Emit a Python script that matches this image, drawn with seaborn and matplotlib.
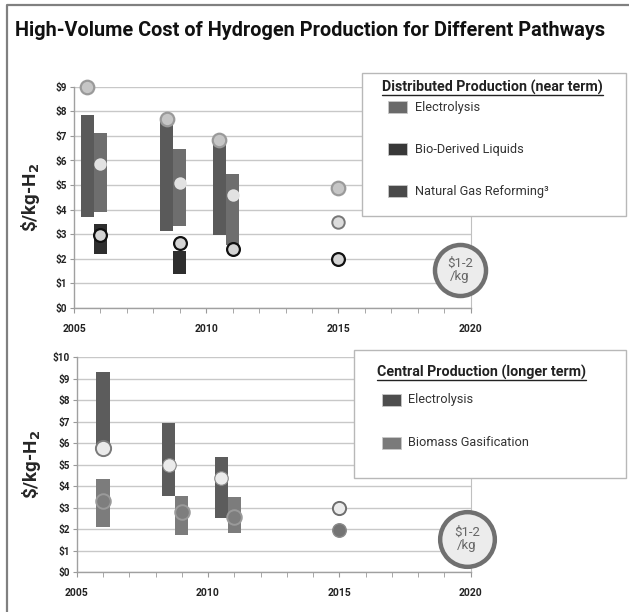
import numpy as np
import pandas as pd
import matplotlib
matplotlib.use("Agg")
import matplotlib.pyplot as plt
from matplotlib.lines import Line2D
from matplotlib.patches import Rectangle
import seaborn as sns

# ---------------- data ----------------
# Distributed production (top panel)
dist_a_years = [2005.5, 2008.5, 2010.5]
dist_a_low = [3.7, 3.15, 2.95]
dist_a_high = [7.85, 7.65, 6.75]

dist_b_years = [2006, 2009, 2011]
dist_b_low = [3.9, 3.35, 2.55]
dist_b_high = [7.1, 6.45, 5.45]

bio_years = [2006, 2009]
bio_low = [2.2, 1.37]
bio_high = [3.42, 2.3]

dist_a_pt_years = [2005.5, 2008.5, 2010.5, 2015]
dist_a_pt_vals = [9.0, 7.7, 6.85, 4.9]
dist_b_pt_years = [2006, 2009, 2011]
dist_b_pt_vals = [5.85, 5.1, 4.6]
dist_b_target_year = [2015]
dist_b_target_val = [3.5]
ng_pt_years = [2006, 2009, 2011, 2015]
ng_pt_vals = [2.95, 2.65, 2.4, 2.0]

# Central production (bottom panel)
cen_el_years = [2006, 2008.5, 2010.5]
cen_el_low = [5.8, 3.56, 2.53]
cen_el_high = [9.33, 6.93, 5.38]
cen_el_pt_years = [2006, 2008.5, 2010.5, 2015]
cen_el_pt_vals = [5.8, 5.0, 4.38, 3.0]

cen_bm_years = [2006, 2009, 2011]
cen_bm_low = [2.12, 1.75, 1.81]
cen_bm_high = [4.33, 3.55, 3.52]
cen_bm_pt_years = [2006, 2009, 2011, 2015]
cen_bm_pt_vals = [3.3, 2.8, 2.55, 1.95]

goal_label = "$1-2\n/kg"
goal_year_top, goal_val_top = [2019.6], [1.55]
goal_year_bot, goal_val_bot = [2019.85], [1.55]

x_ticks = [2005, 2010, 2015, 2020]
top_yticks = list(range(0, 10))
bot_yticks = list(range(0, 11))

dist_legend_title = "Distributed Production (near term)"
dist_legend_labels = ["Electrolysis", "Bio-Derived Liquids", "Natural Gas Reforming\u00b3"]
cen_legend_title = "Central Production (longer term)"
cen_legend_labels = ["Electrolysis", "Biomass Gasification"]
title = "High-Volume Cost of Hydrogen Production for Different Pathways"
ylabel = "\\$/kg-H$_2$"

# ---------------- style ----------------
sns.set_style("white")
plt.rcParams["font.family"] = ["Roboto", "DejaVu Sans"]
plt.rcParams["mathtext.default"] = "bf"

W, H = 629, 612
fig = plt.figure(figsize=(W / 100, H / 100), dpi=100)


def fx(px):
    return px / W


def fy(py):
    return 1 - py / H


def style_axes(ax, ymax, yticks):
    ax.set_xlim(2005, 2020)
    ax.set_ylim(0, ymax)
    ax.set_yticks(yticks)
    ax.set_yticklabels([f"${v}" for v in yticks], fontsize=7.2, fontweight="bold", color="#222222")
    ax.set_xticks(x_ticks)
    ax.set_xticklabels([str(v) for v in x_ticks], fontsize=7.5, fontweight="bold", color="#222222")
    ax.set_xticks(range(2005, 2021), minor=True)
    ax.tick_params(axis="x", which="both", direction="out", length=3.5, color="#999999", pad=8,
                   bottom=True)
    ax.tick_params(axis="y", direction="out", length=3, color="#999999", pad=2, left=True)
    ax.grid(axis="y", color="#c8c8c8", linewidth=1.0)
    ax.grid(axis="x", visible=False)
    ax.set_axisbelow(True)
    for s in ["left", "bottom"]:
        ax.spines[s].set_color("#a0a0a0")
        ax.spines[s].set_linewidth(1.0)
    ax.spines["right"].set_color("#c0c0c0")
    ax.spines["top"].set_visible(False)


def floating_bars(ax, xs, lows, highs, color):
    lows = np.array(lows)
    highs = np.array(highs)
    ax.bar(xs, highs - lows, bottom=lows, width=0.5, color=color, linewidth=0, zorder=2)


def points(ax, xs, ys, size, face, edge, lw, z=4):
    df = pd.DataFrame({"x": xs, "y": ys})
    sns.scatterplot(data=df, x="x", y="y", s=size, color=face, edgecolor=edge, linewidth=lw,
                    ax=ax, legend=False, zorder=z, clip_on=False)


def goal(ax, xs, ys, size):
    df = pd.DataFrame({"x": xs, "y": ys})
    sns.scatterplot(data=df, x="x", y="y", s=size, color="#ececec", edgecolor="#707070",
                    linewidth=3.2, ax=ax, legend=False, zorder=5, clip_on=False)
    ax.text(xs[0], ys[0], goal_label, ha="center", va="center", fontsize=9.5,
            color="#666666", zorder=6, linespacing=1.05)


# ---------------- top panel ----------------
ax1 = fig.add_axes([fx(74), fy(308), fx(470.7 - 74), (308 - 86.7) / H])
style_axes(ax1, 9, top_yticks)
floating_bars(ax1, dist_a_years, dist_a_low, dist_a_high, "#5a5a5a")
floating_bars(ax1, dist_b_years, dist_b_low, dist_b_high, "#6e6e6e")
floating_bars(ax1, bio_years, bio_low, bio_high, "#2e2e2e")
points(ax1, dist_a_pt_years, dist_a_pt_vals, 95, "#c6c6c6", "#9a9a9a", 1.6)
points(ax1, dist_b_pt_years, dist_b_pt_vals, 80, "#e2e2e2", "#e2e2e2", 0)
points(ax1, dist_b_target_year, dist_b_target_val, 80, "#dcdcdc", "#777777", 1.4)
points(ax1, ng_pt_years, ng_pt_vals, 85, "#d4d4d4", "#111111", 1.6)
goal(ax1, goal_year_top, goal_val_top, 1350)

# ---------------- bottom panel ----------------
ax2 = fig.add_axes([fx(76.7), fy(572.3), fx(470.7 - 76.7), (572.3 - 357.3) / H])
style_axes(ax2, 10, bot_yticks)
floating_bars(ax2, cen_el_years, cen_el_low, cen_el_high, "#5c5c5c")
floating_bars(ax2, cen_bm_years, cen_bm_low, cen_bm_high, "#7c7c7c")
points(ax2, cen_el_pt_years[:1], cen_el_pt_vals[:1], 120, "#ebebeb", "#7a7a7a", 1.4)
points(ax2, cen_el_pt_years[1:3], cen_el_pt_vals[1:3], 95, "#ebebeb", "#8a8a8a", 0.8)
points(ax2, cen_el_pt_years[3:], cen_el_pt_vals[3:], 90, "#ececec", "#6e6e6e", 1.4)
points(ax2, cen_bm_pt_years[:3], cen_bm_pt_vals[:3], 110, "#7e7e7e", "#9a9a9a", 1.4)
points(ax2, cen_bm_pt_years[3:], cen_bm_pt_vals[3:], 95, "#747474", "#8a8a8a", 1.0)
goal(ax2, goal_year_bot, goal_val_bot, 1550)

for ax, lx in ((ax1, -0.081), (ax2, -0.086)):
    ax.set_xlabel("")
    ax.set_ylabel(ylabel, fontsize=13.5, fontweight="bold")
    ax.yaxis.set_label_coords(lx, 0.5)


# ---------------- manual legends ----------------
def legend_box(x0, y0, x1, y1, title_text, tx, ty, entries):
    fig.patches.append(Rectangle((fx(x0), fy(y1)), fx(x1 - x0), (y1 - y0) / H,
                                 transform=fig.transFigure, facecolor="white",
                                 edgecolor="#b8b8b8", linewidth=1.0, zorder=10))
    t = fig.text(fx(tx), fy(ty), title_text, ha="left", va="center", fontsize=10.3,
                 fontweight="bold", color="#222222", zorder=11)
    fig.canvas.draw()
    bb = t.get_window_extent()
    fig.add_artist(Line2D([bb.x0 / W, bb.x1 / W], [fy(ty + 7.5)] * 2, color="#222222",
                          linewidth=1.0, transform=fig.transFigure, zorder=11))
    for (sx, sy, color, label, lx) in entries:
        fig.patches.append(Rectangle((fx(sx), fy(sy + 6)), fx(19), 12 / H,
                                     transform=fig.transFigure, facecolor=color,
                                     edgecolor="#c8c8c8", linewidth=0.6, zorder=11))
        fig.text(fx(lx), fy(sy), label, ha="left", va="center", fontsize=9.2,
                 color="#333333", zorder=11)


legend_box(362, 73, 626, 216, dist_legend_title, 382, 87,
           [(388, 107, "#6a6a6a", dist_legend_labels[0], 415),
            (388, 149, "#383838", dist_legend_labels[1], 415),
            (388, 191, "#4a4a4a", dist_legend_labels[2], 415)])
legend_box(354, 350, 626, 478, cen_legend_title, 377, 372,
           [(382, 400, "#4e4e4e", cen_legend_labels[0], 408),
            (382, 443, "#7a7a7a", cen_legend_labels[1], 408)])

# ---------------- title and frame ----------------
fig.text(fx(15), fy(30), title, ha="left", va="center", fontsize=14.3, fontweight="bold",
         color="#111111")
fig.add_artist(Line2D([fx(7), fx(7), 1.0], [0.0, fy(5), fy(5)], color="#808080",
                      linewidth=1.6, transform=fig.transFigure))

fig.savefig("out.png", dpi=100)
